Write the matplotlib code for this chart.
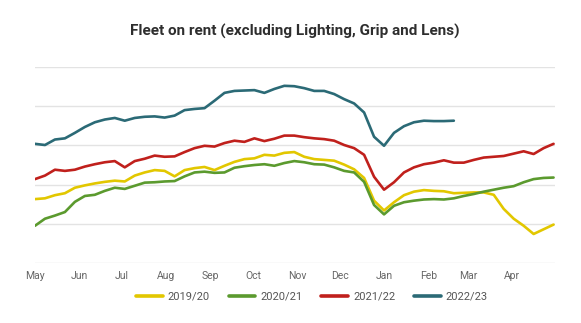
import numpy as np
import matplotlib
matplotlib.use('Agg')
import matplotlib.pyplot as plt

plt.rcParams['font.family'] = ['Roboto', 'DejaVu Sans']

# weekly readings, starting 1 May
months = ['May', 'Jun', 'Jul', 'Aug', 'Sep', 'Oct', 'Nov', 'Dec', 'Jan', 'Feb', 'Mar', 'Apr']
month_days = [0, 31, 61, 92, 123, 153, 184, 214, 245, 276, 304, 335]

fy2019 = [16.3, 16.5, 17.3, 17.8, 19.2, 19.8, 20.3, 20.7, 21.0, 20.8, 22.3, 23.1, 23.7, 23.5,
          22.1, 23.7, 24.2, 24.5, 23.7, 24.8, 25.8, 26.5, 26.7, 27.6, 27.4, 28.1, 28.3, 27.1,
          26.5, 26.3, 26.1, 25.1, 23.9, 21.7, 15.9, 13.4, 15.5, 17.3, 18.2, 18.6, 18.4, 18.3,
          17.8, 17.9, 18.0, 18.0, 17.4, 13.8, 11.3, 9.5, 7.4, 8.6, 9.8]
fy2020 = [9.5, 11.3, 12.1, 13.0, 15.6, 17.1, 17.4, 18.4, 19.2, 18.9, 19.7, 20.5, 20.6, 20.8,
          20.9, 22.1, 23.1, 23.3, 23.0, 23.1, 24.3, 24.7, 25.0, 25.2, 24.8, 25.5, 26.0, 25.7,
          25.2, 25.1, 24.4, 23.5, 23.1, 20.7, 14.8, 12.4, 14.6, 15.5, 15.9, 16.2, 16.3, 16.2,
          16.5, 17.1, 17.6, 18.2, 18.7, 19.2, 19.6, 20.6, 21.4, 21.7, 21.8]
fy2021 = [21.4, 22.3, 23.8, 23.5, 23.8, 24.6, 25.2, 25.7, 26.0, 24.4, 26.0, 26.6, 27.4, 27.1,
          27.2, 28.3, 29.3, 29.9, 29.7, 30.6, 31.2, 30.9, 31.8, 31.1, 31.7, 32.5, 32.5, 32.1,
          31.8, 31.6, 31.2, 30.1, 29.3, 27.6, 22.0, 18.7, 20.6, 23.1, 24.4, 25.2, 25.6, 26.2,
          25.6, 25.6, 26.3, 26.9, 27.1, 27.3, 27.9, 28.5, 27.8, 29.3, 30.4]
fy2022 = [30.4, 30.1, 31.5, 31.8, 33.2, 34.7, 35.9, 36.6, 37.0, 36.3, 37.0, 37.3, 37.4, 37.1,
          37.6, 39.0, 39.3, 39.5, 41.4, 43.4, 43.9, 44.0, 44.1, 43.4, 44.4, 45.2, 45.1, 44.6,
          43.9, 43.9, 43.1, 41.8, 40.7, 38.4, 32.2, 29.9, 33.2, 34.9, 35.9, 36.3, 36.2, 36.2,
          36.3]

series = [('2019/20', fy2019, '#e2c700'),
          ('2020/21', fy2020, '#5b9a2e'),
          ('2021/22', fy2021, '#c0201c'),
          ('2022/23', fy2022, '#2b6a76')]

fig = plt.figure(figsize=(5.81, 3.23), dpi=100)
ax = fig.add_axes([35 / 581, 1 - 263 / 323, 520 / 581, 196 / 323])

for label, vals, col in series:
    days = np.arange(len(vals)) * 7
    ax.plot(days, vals, color=col, lw=1.9, label=label, solid_capstyle='round')

ax.set_xlim(0, 365)
ax.set_ylim(0, 50)
ax.set_yticks(range(0, 51, 10))
ax.set_yticklabels([])
ax.tick_params(axis='y', length=0)
ax.grid(axis='y', color='#e3e3e3', lw=1)
ax.set_axisbelow(True)
ax.set_xticks(month_days)
ax.set_xticklabels(months, fontsize=7.5, color='#666666')
ax.tick_params(axis='x', length=0, pad=6)
for s in ax.spines.values():
    s.set_visible(False)

fig.text(295 / 581, 1 - 31 / 323, 'Fleet on rent (excluding Lighting, Grip and Lens)',
         ha='center', va='center', fontsize=11, fontweight='bold', color='#2e2e2e')

leg = fig.legend(loc='center', bbox_to_anchor=(312 / 581, 1 - 297 / 323), ncol=4,
                 frameon=False, fontsize=8, handlelength=2.4, handletextpad=0.45,
                 columnspacing=1.7, labelcolor='#555555')
for h in leg.get_lines():
    h.set_linewidth(2.6)

fig.savefig('out.png', dpi=100)
